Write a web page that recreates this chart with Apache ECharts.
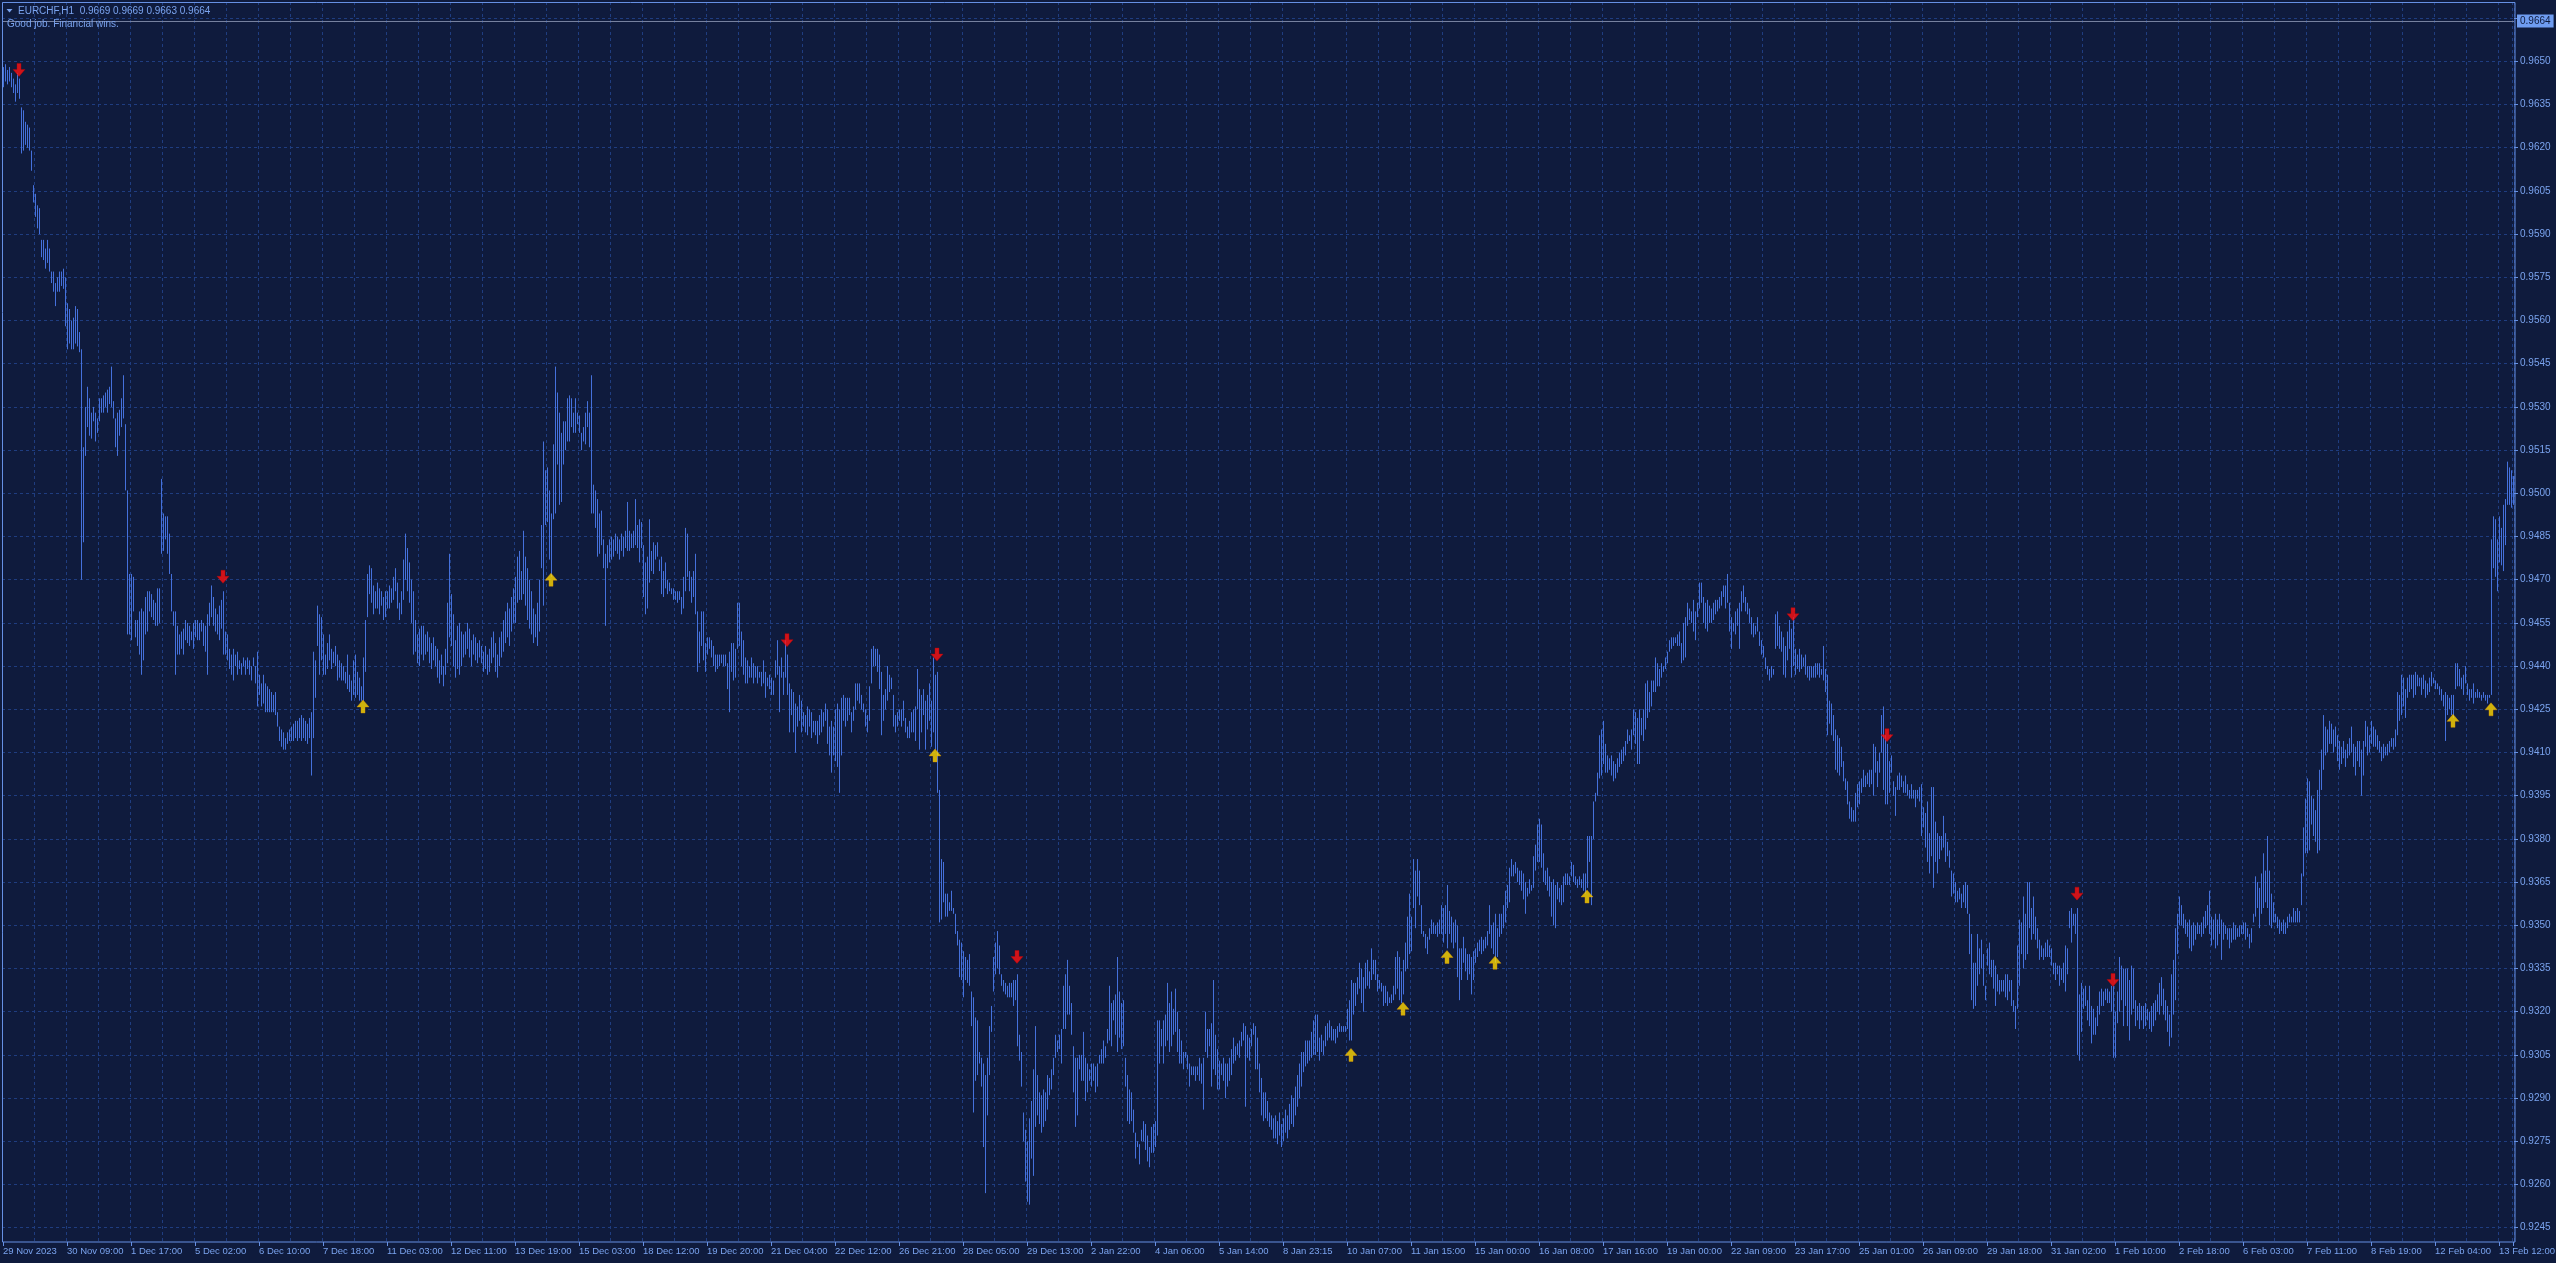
<!DOCTYPE html>
<html>
<head>
<meta charset="utf-8">
<script src="https://cdn.jsdelivr.net/npm/echarts/dist/echarts.min.js"></script>
<style>
html,body{margin:0;padding:0;background:#0f1b3d;overflow:hidden;}
#chart{width:2556px;height:1263px;}
</style>
</head>
<body>
<div id="chart"></div>
<script>
// ---- DATA (prices in pips, 1 pip = 0.0001) ----
const barHigh = [
9648,9649,9647,9648,9646,9644,9642,9646,9644,9634,9633,9629,9628,9627,9619,9607,
9604,9600,9599,9588,9588,9585,9588,9585,9577,9577,9573,9575,9577,9577,9578,9575,
9566,9564,9560,9561,9565,9564,9556,9550,9516,9530,9537,9533,9528,9530,9528,9526,
9533,9533,9534,9535,9536,9537,9544,9532,9526,9528,9529,9533,9541,9524,9501,9472,
9472,9471,9456,9456,9459,9460,9459,9464,9466,9466,9465,9463,9462,9467,9467,9505,
9493,9492,9492,9486,9472,9459,9459,9454,9451,9452,9453,9456,9455,9454,9452,9455,
9456,9456,9455,9456,9455,9454,9458,9462,9468,9464,9460,9458,9461,9463,9466,9452,
9451,9446,9444,9446,9444,9445,9442,9441,9443,9442,9443,9442,9440,9443,9440,9445,
9437,9434,9437,9434,9433,9432,9431,9430,9431,9424,9419,9418,9417,9415,9417,9418,
9419,9420,9421,9421,9422,9423,9422,9421,9420,9422,9424,9445,9442,9461,9458,9457,
9451,9444,9448,9451,9446,9445,9447,9444,9442,9441,9440,9438,9444,9437,9435,9442,
9444,9438,9436,9433,9443,9456,9472,9475,9474,9468,9466,9469,9467,9466,9464,9466,
9466,9468,9467,9471,9474,9469,9462,9466,9477,9486,9481,9476,9470,9466,9456,9451,
9453,9454,9454,9451,9452,9450,9448,9450,9447,9446,9442,9444,9440,9446,9462,9479,
9465,9458,9449,9454,9455,9452,9451,9452,9455,9453,9449,9451,9450,9448,9449,9447,
9445,9447,9444,9446,9450,9452,9448,9444,9450,9452,9456,9459,9462,9460,9464,9467,
9471,9478,9480,9473,9487,9478,9474,9470,9466,9460,9458,9462,9470,9489,9518,9508,
9509,9501,9493,9517,9544,9535,9528,9521,9525,9525,9533,9534,9533,9528,9533,9528,
9527,9521,9523,9528,9532,9528,9541,9503,9501,9498,9493,9494,9484,9479,9482,9484,
9485,9484,9486,9485,9484,9486,9485,9487,9497,9487,9486,9487,9498,9489,9491,9490,
9482,9476,9478,9491,9480,9483,9482,9483,9477,9478,9473,9476,9470,9469,9467,9467,
9466,9466,9466,9464,9471,9488,9486,9473,9471,9473,9479,9459,9452,9459,9459,9448,
9450,9450,9449,9447,9444,9444,9444,9444,9444,9444,9441,9445,9448,9448,9446,9462,
9462,9452,9449,9443,9442,9440,9443,9441,9440,9440,9438,9438,9442,9438,9436,9437,
9436,9435,9442,9449,9440,9443,9438,9449,9444,9434,9432,9431,9427,9426,9430,9428,
9424,9423,9426,9425,9424,9421,9421,9421,9423,9425,9424,9427,9425,9419,9421,9419,
9425,9427,9425,9429,9430,9429,9429,9429,9424,9426,9434,9434,9434,9430,9427,9425,
9423,9433,9446,9447,9446,9446,9444,9438,9430,9432,9440,9437,9436,9430,9423,9424,
9425,9425,9428,9422,9419,9421,9424,9425,9426,9439,9432,9430,9432,9428,9430,9434,
9428,9443,9437,9438,9397,9373,9372,9361,9361,9358,9362,9356,9354,9348,9345,9344,
9341,9339,9338,9340,9327,9325,9318,9317,9306,9304,9302,9298,9304,9315,9322,9339,
9344,9348,9343,9333,9331,9330,9329,9330,9330,9331,9331,9333,9312,9306,9285,9279,
9275,9283,9289,9300,9315,9298,9292,9291,9293,9292,9298,9297,9300,9304,9312,9310,
9312,9314,9329,9333,9338,9329,9323,9308,9304,9304,9305,9305,9313,9304,9302,9300,
9302,9302,9301,9302,9305,9307,9310,9308,9314,9329,9323,9324,9326,9339,9327,9323,
9324,9304,9298,9293,9292,9286,9278,9275,9274,9279,9282,9281,9277,9273,9280,9281,
9282,9317,9317,9314,9317,9319,9330,9323,9327,9321,9328,9320,9314,9310,9306,9306,
9305,9302,9301,9301,9301,9301,9304,9302,9304,9320,9314,9314,9316,9331,9312,9307,
9303,9302,9304,9302,9302,9304,9307,9311,9308,9309,9310,9313,9316,9315,9312,9311,
9314,9316,9315,9311,9302,9297,9292,9292,9289,9285,9284,9283,9284,9282,9285,9281,
9283,9286,9284,9288,9291,9290,9294,9298,9302,9306,9306,9310,9310,9310,9313,9317,
9319,9319,9311,9312,9310,9315,9316,9317,9315,9314,9314,9315,9316,9315,9315,9315,
9321,9324,9331,9330,9330,9332,9337,9335,9332,9337,9338,9334,9342,9338,9338,9333,
9331,9330,9329,9329,9327,9325,9326,9329,9339,9341,9339,9334,9338,9344,9353,9361,
9353,9373,9369,9373,9369,9357,9348,9347,9346,9349,9352,9351,9350,9351,9352,9357,
9356,9357,9364,9355,9353,9351,9352,9350,9342,9342,9346,9342,9340,9340,9339,9341,
9342,9344,9345,9346,9345,9346,9348,9357,9350,9351,9354,9349,9354,9354,9357,9362,
9364,9370,9373,9371,9372,9370,9369,9369,9368,9365,9363,9366,9364,9374,9378,9385,
9387,9385,9375,9369,9370,9367,9365,9366,9364,9365,9363,9364,9367,9368,9368,9367,
9372,9371,9367,9366,9367,9366,9368,9368,9381,9381,9381,9393,9396,9403,9416,9418,
9421,9413,9409,9408,9409,9407,9406,9408,9410,9411,9412,9414,9418,9416,9418,9425,
9424,9422,9425,9422,9425,9434,9435,9431,9435,9435,9443,9441,9439,9441,9440,9443,
9445,9449,9450,9450,9450,9451,9452,9448,9455,9457,9462,9460,9459,9463,9459,9462,
9469,9469,9464,9462,9463,9461,9460,9462,9463,9463,9464,9466,9468,9468,9472,9462,
9457,9455,9459,9460,9462,9466,9468,9464,9462,9460,9457,9455,9454,9457,9452,9449,
9447,9443,9440,9439,9440,9439,9458,9459,9454,9452,9450,9447,9452,9456,9453,9457,
9446,9444,9446,9444,9443,9444,9440,9440,9440,9440,9441,9441,9441,9439,9447,9439,
9437,9428,9427,9423,9418,9416,9415,9412,9407,9401,9400,9393,9391,9390,9396,9399,
9400,9401,9404,9402,9403,9404,9404,9413,9412,9407,9410,9423,9426,9416,9413,9407,
9409,9400,9398,9402,9403,9402,9400,9402,9399,9397,9399,9397,9397,9397,9398,9399,
9391,9389,9393,9382,9398,9398,9386,9382,9381,9381,9388,9382,9379,9376,9369,9368,
9365,9362,9363,9361,9364,9365,9364,9354,9347,9337,9337,9347,9342,9345,9340,9329,
9342,9344,9338,9338,9336,9333,9331,9331,9331,9333,9333,9331,9331,9324,9322,9343,
9352,9351,9360,9354,9365,9365,9356,9360,9353,9349,9345,9343,9342,9344,9345,9343,
9342,9337,9337,9336,9336,9335,9337,9343,9342,9355,9356,9354,9354,9356,9326,9330,
9328,9329,9324,9329,9322,9321,9318,9322,9327,9328,9327,9328,9328,9327,9329,9329,
9320,9327,9339,9336,9335,9335,9335,9331,9336,9335,9324,9322,9323,9322,9322,9323,
9321,9320,9322,9323,9324,9326,9330,9332,9328,9324,9322,9319,9333,9338,9349,9354,
9360,9357,9354,9352,9351,9352,9350,9351,9350,9351,9350,9351,9353,9355,9357,9362,
9353,9352,9354,9352,9354,9352,9351,9350,9349,9349,9349,9351,9350,9349,9350,9350,
9351,9351,9349,9347,9349,9354,9367,9365,9363,9368,9375,9369,9381,9369,9361,9358,
9354,9353,9352,9351,9352,9351,9353,9354,9353,9356,9355,9356,9355,9368,9384,9394,
9401,9400,9395,9394,9390,9397,9404,9411,9423,9419,9418,9421,9420,9418,9419,9416,
9414,9412,9414,9411,9413,9415,9419,9413,9412,9414,9414,9411,9414,9421,9419,9416,
9421,9419,9418,9416,9414,9412,9413,9412,9413,9414,9415,9415,9418,9431,9430,9437,
9436,9432,9436,9437,9437,9437,9438,9437,9436,9436,9437,9435,9434,9436,9438,9436,
9435,9434,9433,9432,9430,9431,9430,9429,9430,9430,9441,9441,9439,9436,9437,9440,
9434,9432,9432,9434,9431,9432,9431,9430,9431,9430,9430,9430,9484,9492,9491,9484,
9492,9488,9496,9498,9511,9509,9508,9506
];
const barLow = [
9641,9643,9642,9643,9641,9639,9636,9639,9637,9618,9619,9621,9620,9619,9612,9601,
9596,9592,9590,9582,9581,9578,9580,9577,9573,9570,9565,9570,9570,9572,9571,9558,
9550,9552,9550,9550,9552,9551,9549,9470,9483,9513,9523,9520,9519,9525,9518,9521,
9525,9528,9528,9530,9528,9531,9530,9526,9516,9513,9520,9523,9526,9501,9451,9451,
9449,9459,9450,9447,9444,9437,9442,9451,9452,9459,9457,9456,9454,9454,9455,9479,
9480,9484,9479,9472,9459,9454,9437,9444,9444,9446,9444,9449,9448,9447,9449,9446,
9450,9449,9449,9452,9447,9445,9437,9454,9457,9454,9452,9451,9449,9453,9444,9444,
9442,9439,9437,9435,9440,9437,9439,9437,9440,9437,9439,9437,9435,9440,9434,9426,
9430,9426,9427,9424,9424,9424,9424,9424,9423,9419,9414,9412,9411,9411,9413,9414,
9414,9414,9415,9414,9415,9414,9415,9414,9413,9415,9402,9415,9429,9447,9437,9442,
9437,9437,9439,9442,9439,9441,9440,9435,9436,9435,9435,9434,9432,9431,9428,9430,
9429,9430,9428,9428,9428,9438,9457,9465,9462,9458,9460,9460,9458,9461,9456,9457,
9460,9460,9462,9463,9466,9460,9456,9458,9463,9470,9466,9462,9455,9444,9445,9441,
9440,9444,9442,9444,9445,9441,9439,9442,9440,9436,9434,9437,9433,9437,9441,9450,
9447,9440,9436,9439,9437,9440,9443,9444,9446,9443,9440,9444,9442,9441,9443,9441,
9438,9439,9437,9438,9441,9443,9438,9436,9440,9443,9445,9448,9450,9447,9452,9455,
9455,9462,9463,9463,9465,9461,9456,9453,9451,9448,9450,9447,9452,9474,9461,9489,
9490,9477,9471,9491,9493,9510,9496,9497,9510,9515,9518,9518,9523,9521,9521,9524,
9521,9515,9518,9517,9523,9516,9493,9493,9488,9478,9479,9482,9474,9454,9474,9476,
9477,9478,9480,9479,9477,9480,9478,9481,9480,9480,9481,9481,9482,9481,9476,9481,
9464,9458,9460,9469,9473,9472,9477,9478,9473,9465,9464,9467,9465,9466,9465,9463,
9463,9462,9463,9458,9460,9466,9471,9466,9462,9464,9458,9438,9441,9447,9442,9438,
9444,9446,9443,9440,9438,9439,9440,9441,9440,9440,9432,9424,9438,9435,9436,9446,
9447,9440,9437,9434,9434,9436,9436,9434,9436,9434,9436,9433,9434,9429,9433,9432,
9430,9430,9436,9437,9424,9436,9430,9436,9430,9417,9423,9417,9410,9419,9421,9417,
9419,9417,9416,9419,9415,9417,9416,9413,9416,9417,9419,9421,9413,9409,9403,9409,
9407,9405,9396,9409,9421,9419,9421,9423,9417,9421,9425,9428,9427,9425,9424,9419,
9417,9421,9434,9440,9440,9438,9432,9416,9421,9425,9428,9431,9432,9419,9417,9419,
9421,9419,9421,9417,9415,9415,9417,9417,9414,9425,9411,9417,9423,9411,9418,9421,
9412,9417,9411,9396,9351,9352,9358,9353,9353,9355,9355,9354,9347,9343,9332,9331,
9325,9331,9330,9329,9315,9285,9296,9298,9302,9294,9273,9257,9284,9298,9313,9327,
9333,9335,9333,9329,9327,9326,9325,9325,9325,9322,9324,9308,9303,9294,9275,9261,
9254,9253,9269,9263,9280,9284,9281,9278,9280,9282,9286,9291,9293,9298,9304,9306,
9307,9302,9314,9314,9319,9319,9312,9292,9280,9284,9300,9296,9296,9289,9292,9296,
9294,9296,9292,9294,9302,9302,9302,9304,9309,9310,9308,9317,9312,9306,9311,9307,
9308,9294,9282,9281,9282,9278,9269,9273,9267,9275,9275,9272,9268,9266,9271,9271,
9273,9277,9302,9308,9302,9308,9310,9306,9308,9312,9313,9306,9302,9302,9300,9304,
9300,9294,9298,9298,9296,9298,9296,9295,9286,9306,9304,9308,9294,9300,9298,9293,
9293,9298,9296,9290,9294,9296,9298,9302,9303,9305,9304,9308,9310,9287,9304,9303,
9308,9312,9300,9300,9292,9284,9282,9283,9282,9280,9279,9276,9276,9274,9277,9273,
9275,9278,9276,9279,9281,9280,9284,9287,9290,9294,9299,9301,9302,9303,9304,9305,
9305,9306,9303,9306,9305,9308,9310,9311,9310,9310,9309,9311,9313,9313,9313,9313,
9314,9310,9310,9319,9322,9326,9328,9323,9320,9328,9329,9328,9331,9333,9331,9327,
9328,9327,9322,9323,9322,9323,9323,9324,9326,9328,9324,9323,9326,9334,9335,9340,
9341,9356,9349,9360,9357,9347,9346,9342,9340,9345,9347,9347,9347,9346,9347,9347,
9344,9347,9342,9347,9344,9342,9344,9332,9324,9331,9337,9334,9331,9333,9326,9331,
9337,9339,9341,9340,9341,9342,9343,9347,9342,9340,9337,9339,9346,9347,9349,9351,
9356,9358,9367,9367,9368,9365,9364,9362,9359,9354,9360,9361,9362,9363,9369,9372,
9372,9370,9365,9364,9362,9360,9353,9350,9349,9359,9358,9357,9358,9364,9364,9364,
9367,9365,9364,9363,9364,9363,9362,9361,9363,9372,9357,9380,9393,9395,9401,9402,
9406,9403,9403,9404,9402,9400,9401,9403,9405,9406,9407,9409,9413,9414,9411,9416,
9413,9406,9406,9416,9414,9418,9422,9424,9426,9431,9431,9433,9433,9436,9438,9439,
9441,9445,9446,9447,9448,9447,9447,9441,9442,9443,9454,9456,9455,9452,9449,9457,
9460,9462,9455,9453,9452,9455,9455,9456,9458,9459,9460,9461,9464,9460,9462,9452,
9446,9452,9451,9454,9446,9459,9462,9459,9458,9455,9451,9450,9451,9452,9447,9444,
9443,9439,9437,9435,9436,9437,9446,9447,9446,9445,9437,9436,9442,9446,9436,9440,
9437,9439,9438,9439,9440,9437,9436,9435,9436,9436,9436,9437,9436,9437,9435,9431,
9416,9420,9416,9414,9404,9403,9402,9405,9400,9397,9392,9387,9386,9386,9386,9391,
9392,9396,9398,9398,9399,9398,9399,9395,9403,9398,9403,9410,9397,9392,9392,9396,
9403,9395,9388,9397,9397,9398,9396,9396,9395,9394,9394,9394,9391,9394,9393,9381,
9384,9377,9372,9368,9374,9363,9372,9368,9373,9376,9377,9372,9374,9370,9360,9361,
9358,9358,9359,9356,9358,9356,9354,9340,9324,9321,9322,9329,9333,9335,9329,9324,
9336,9333,9332,9328,9322,9327,9326,9327,9327,9325,9324,9327,9322,9320,9314,9321,
9329,9340,9335,9338,9340,9349,9345,9347,9345,9342,9338,9339,9338,9339,9339,9339,
9336,9333,9331,9333,9329,9331,9330,9327,9333,9349,9344,9350,9347,9305,9303,9313,
9321,9322,9317,9315,9309,9312,9312,9315,9319,9322,9322,9324,9323,9323,9320,9304,
9304,9316,9320,9324,9315,9322,9315,9310,9319,9321,9315,9317,9314,9317,9314,9315,
9317,9314,9313,9315,9317,9320,9319,9322,9319,9317,9313,9308,9311,9319,9324,9340,
9350,9350,9349,9347,9346,9342,9341,9343,9345,9347,9347,9346,9347,9349,9350,9347,
9343,9345,9342,9343,9347,9338,9345,9347,9345,9342,9344,9345,9345,9346,9346,9347,
9347,9345,9346,9342,9344,9351,9353,9356,9349,9354,9356,9358,9356,9350,9349,9351,
9351,9349,9347,9348,9347,9347,9349,9351,9351,9351,9351,9351,9351,9357,9367,9375,
9375,9376,9385,9381,9379,9375,9376,9397,9404,9409,9410,9413,9413,9410,9412,9407,
9404,9406,9408,9405,9408,9409,9410,9405,9402,9407,9405,9395,9402,9412,9409,9410,
9413,9412,9412,9411,9410,9407,9408,9409,9409,9410,9412,9411,9412,9416,9421,9423,
9426,9422,9429,9431,9432,9429,9430,9433,9433,9430,9432,9429,9430,9431,9433,9434,
9432,9432,9430,9428,9426,9414,9423,9425,9423,9422,9432,9433,9433,9432,9430,9434,
9430,9428,9429,9427,9429,9429,9429,9428,9429,9428,9427,9429,9430,9474,9471,9466,
9476,9475,9473,9482,9496,9496,9495,9496
];
// time-axis labels, one every 32 hourly bars
const timeLabels = [
'29 Nov 2023','30 Nov 09:00','1 Dec 17:00','5 Dec 02:00','6 Dec 10:00','7 Dec 18:00',
'11 Dec 03:00','12 Dec 11:00','13 Dec 19:00','15 Dec 03:00','18 Dec 12:00','19 Dec 20:00',
'21 Dec 04:00','22 Dec 12:00','26 Dec 21:00','28 Dec 05:00','29 Dec 13:00','2 Jan 22:00',
'4 Jan 06:00','5 Jan 14:00','8 Jan 23:15','10 Jan 07:00','11 Jan 15:00','15 Jan 00:00',
'16 Jan 08:00','17 Jan 16:00','19 Jan 00:00','22 Jan 09:00','23 Jan 17:00','25 Jan 01:00',
'26 Jan 09:00','29 Jan 18:00','31 Jan 02:00','1 Feb 10:00','2 Feb 18:00','6 Feb 03:00',
'7 Feb 11:00','8 Feb 19:00','12 Feb 04:00','13 Feb 12:00'
];
// signal arrows: [bar index, price in pips]
const sellArrows = [[8,9647],[110,9471],[392,9449],[467,9444],[507,9339],[895,9458],[942,9416],[1037,9361],[1055,9331]];
const buyArrows  = [[180,9426],[274,9470],[466,9409],[674,9305],[700,9321],[722,9339],[746,9337],[792,9360],[1225,9421],[1244,9425]];
const bidPrice = 9664;
const headerText = 'EURCHF,H1  0.9669 0.9669 0.9663 0.9664';
const commentText = 'Good job. Financial wins.';

// ---- CHART ----
const BAR_COUNT = 1256;
const LABEL_STEP = 32;
const Y_BASE = 9245;      // lowest labelled grid price (0.9245)
const Y_TOP = 9670.6;     // price at top edge of plot
const Y_STEP = 15;

const BG = '#0f1b3d';
const GRID = '#1f3d80';
const BAR = '#4571dc';
const FG = '#7aa3ee';
const FRAME = '#6690e4';
const FONT = "'Liberation Sans',Arial,sans-serif";

const categories = [];
for (let i = 0; i < BAR_COUNT; i++) categories.push('');
timeLabels.forEach((t, k) => { categories[k * LABEL_STEP] = t; });
const idx = categories.map((_, i) => i);

const barData = barHigh.map((h, i) => [i, barLow[i] - Y_BASE, h - Y_BASE]);
const sellData = sellArrows.map(a => [a[0], a[1] - Y_BASE]);
const buyData = buyArrows.map(a => [a[0], a[1] - Y_BASE]);

const chart = echarts.init(document.getElementById('chart'), null, {renderer: 'canvas'});
chart.setOption({
  backgroundColor: BG,
  animation: false,
  textStyle: {fontFamily: FONT},
  grid: [
    {left: 2, top: 2, width: 2512, height: 1225.7, containLabel: false, outerBoundsMode: 'none'},
    {left: 2, top: 2, width: 2512, height: 1240, containLabel: false, outerBoundsMode: 'none'}
  ],
  xAxis: [
    {gridIndex: 0, type: 'category', data: idx, boundaryGap: true, show: false},
    {gridIndex: 1, type: 'category', data: categories, boundaryGap: true, position: 'bottom',
     axisLine: {show: false},
     axisTick: {show: true, interval: LABEL_STEP - 1, alignWithLabel: true, length: 4, lineStyle: {color: FRAME}},
     axisLabel: {show: true, interval: 0, hideOverlap: false, align: 'left', margin: 4, color: FG, fontSize: 9.5, fontFamily: FONT},
     splitLine: {show: true, interval: LABEL_STEP / 2 - 1, lineStyle: {color: GRID, type: [3, 3], width: 1}}
    }
  ],
  yAxis: [
    {gridIndex: 0, type: 'value', position: 'right', min: 0, max: Y_TOP - Y_BASE, interval: Y_STEP,
     axisLine: {show: false},
     axisTick: {show: true, length: 4, lineStyle: {color: FRAME}},
     axisLabel: {show: true, margin: 6, color: FG, fontSize: 10, fontFamily: FONT, showMaxLabel: false,
       formatter: v => (v > Y_TOP - Y_BASE - 8 ? '' : ((Y_BASE + v) / 10000).toFixed(4))},
     splitLine: {show: true, lineStyle: {color: GRID, type: [3, 3], width: 1}}
    },
    {gridIndex: 1, type: 'value', show: false, min: 0, max: 1}
  ],
  series: [
    {
      type: 'custom', xAxisIndex: 0, yAxisIndex: 0, silent: true, clip: true,
      data: barData,
      encode: {x: 0, y: [1, 2]},
      renderItem: function (params, api) {
        const i = api.value(0);
        const lo = api.coord([i, api.value(1)]);
        const hi = api.coord([i, api.value(2)]);
        const x = Math.round(lo[0]) + 0.5;
        let y2 = hi[1];
        if (lo[1] - y2 < 1) y2 = lo[1] - 1;
        return {type: 'line', shape: {x1: x, y1: lo[1], x2: x, y2: y2},
                style: {stroke: BAR, lineWidth: 1}};
      }
    },
    {
      type: 'scatter', xAxisIndex: 0, yAxisIndex: 0, silent: true,
      data: sellData,
      symbol: 'path://M4,0 L8,0 L8,6 L12,6 L6,13 L0,6 L4,6 Z',
      symbolSize: [12, 13], symbolKeepAspect: false,
      itemStyle: {color: '#ff1212', borderColor: '#c00000', borderWidth: 0.5},
      z: 5,
      markLine: {
        silent: true, symbol: ['none', 'none'], animation: false,
        lineStyle: {color: '#76819f', type: 'solid', width: 1},
        label: {show: true, position: 'end', distance: 3, formatter: (bidPrice / 10000).toFixed(4),
                color: '#0f1b3d', backgroundColor: '#6f9cf0', padding: [2, 3, 1, 3],
                fontSize: 10, fontFamily: FONT},
        data: [{yAxis: bidPrice - Y_BASE}]
      }
    },
    {
      type: 'scatter', xAxisIndex: 0, yAxisIndex: 0, silent: true,
      data: buyData,
      symbol: 'path://M6,0 L12,7 L8,7 L8,13 L4,13 L4,7 L0,7 Z',
      symbolSize: [12, 13], symbolKeepAspect: false,
      itemStyle: {color: '#ffd800', borderColor: '#e89a00', borderWidth: 0.5},
      z: 5
    }
  ],
  graphic: [
    {type: 'rect', silent: true, z: 10,
     shape: {x: 2.5, y: 2.5, width: 2512.5, height: 1239.5},
     style: {fill: 'none', stroke: FRAME, lineWidth: 1}},
    {type: 'polygon', silent: true, z: 10,
     shape: {points: [[6.5, 9], [12.5, 9], [9.5, 12.5]]},
     style: {fill: FG}},
    {type: 'text', silent: true, z: 10, left: 18, top: 6,
     style: {text: headerText, fill: FG, font: '10px ' + FONT}},
    {type: 'text', silent: true, z: 10, left: 7, top: 19,
     style: {text: commentText, fill: FG, font: '10px ' + FONT}}
  ]
});
</script>
</body>
</html>
